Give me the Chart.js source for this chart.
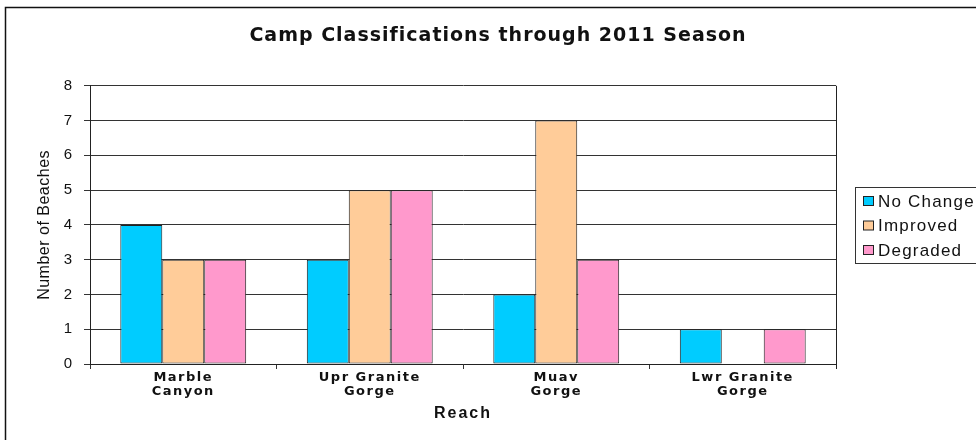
<!DOCTYPE html>
<html>
<head>
<meta charset="utf-8">
<script src="https://cdn.jsdelivr.net/npm/chart.js@4"></script>
<style>
  html, body { margin: 0; padding: 0; background: #fff; }
</style>
</head>
<body>
<canvas id="myChart" width="976" height="440"></canvas>
<script>
// data
var reaches = [['Marble', 'Canyon'], ['Upr Granite', 'Gorge'], ['Muav', 'Gorge'], ['Lwr Granite', 'Gorge']];
var noChange = [4, 3, 2, 1];
var improved = [3, 5, 7, 0];
var degraded = [3, 5, 3, 1];

var FONT = 'Arial, "Liberation Sans", sans-serif';
var WIDE = '"DejaVu Sans", Arial, sans-serif';

// frame round the picture, right edge of the plot, and the boxed legend
var framePlugin = {
  id: 'frame',
  beforeDraw: function(chart) {
    var ctx = chart.ctx;
    ctx.save();
    ctx.fillStyle = '#fff';
    ctx.fillRect(0, 0, chart.width, chart.height);
    ctx.strokeStyle = '#111';
    ctx.lineWidth = 1.5;
    ctx.strokeRect(5.5, 7.5, chart.width + 10, chart.height + 10);
    ctx.restore();
  },
  afterDraw: function(chart) {
    var ctx = chart.ctx, a = chart.chartArea;
    ctx.save();
    ctx.strokeStyle = '#222';
    ctx.lineWidth = 1;
    ctx.beginPath();
    ctx.moveTo(Math.round(a.right) + 0.5, a.top);
    ctx.lineTo(Math.round(a.right) + 0.5, a.bottom + 5);
    ctx.stroke();

    // legend
    ctx.strokeStyle = '#333';
    ctx.strokeRect(855.5, 187.5, 140, 76);
    ctx.font = '17px ' + FONT;
    ctx.letterSpacing = '1.2px';
    ctx.textBaseline = 'middle';
    chart.data.datasets.forEach(function(ds, i) {
      var y = 201 + i * 24.5;
      ctx.fillStyle = ds.backgroundColor;
      ctx.fillRect(863.5, y - 4.5, 10, 9);
      ctx.strokeStyle = '#222';
      ctx.strokeRect(863.5, y - 4.5, 10, 9);
      ctx.fillStyle = '#111';
      ctx.fillText(ds.label, 878, y + 1);
    });
    ctx.restore();
  }
};

// draw some text with extra letter spacing (the original is stretched wide)
function spaced(obj, name, sp) {
  var orig = obj[name];
  obj[name] = function() {
    var c = this.ctx, prev = c.letterSpacing;
    c.letterSpacing = sp;
    var r = orig.apply(this, arguments);
    c.letterSpacing = prev;
    return r;
  };
}

var ctx = document.getElementById('myChart').getContext('2d');
var chart = new Chart(ctx, {
  type: 'bar',
  data: {
    labels: reaches,
    datasets: [{
      label: 'No Change',
      backgroundColor: '#00ccff',
      borderColor: '#222',
      borderWidth: 1,
      borderSkipped: false,
      data: noChange
    }, {
      label: 'Improved',
      backgroundColor: '#ffcc99',
      borderColor: '#222',
      borderWidth: 1,
      borderSkipped: false,
      data: improved
    }, {
      label: 'Degraded',
      backgroundColor: '#ff99cc',
      borderColor: '#222',
      borderWidth: 1,
      borderSkipped: false,
      data: degraded
    }]
  },
  options: {
    responsive: false,
    animation: false,
    categoryPercentage: 0.675,
    barPercentage: 1,
    layout: { padding: { left: 20, right: 0, top: 0, bottom: 0 } },
    plugins: {
      title: {
        display: true,
        text: 'Camp Classifications through 2011 Season',
        color: '#111',
        font: { family: WIDE, size: 19, weight: 'bold', lineHeight: 1.2 },
        padding: { top: 25, bottom: 38 }
      },
      legend: { display: false },
      tooltip: { enabled: false }
    },
    scales: {
      x: {
        afterFit: function(s) { s.height = 76; },
        grid: { drawOnChartArea: false, offset: true, tickLength: 5, color: '#333' },
        border: { color: '#222' },
        ticks: {
          color: '#111',
          maxRotation: 0,
          padding: 1,
          font: { family: WIDE, size: 13, weight: 'bold', lineHeight: 1.1 }
        },
        title: {
          display: true,
          text: 'Reach',
          color: '#111',
          font: { family: FONT, size: 16, weight: 'bold', lineHeight: 1.2 },
          padding: { top: 4, bottom: 17 }
        }
      },
      y: {
        min: 0,
        max: 8,
        afterFit: function(s) { s.width = 70; },
        grid: { color: '#333', tickLength: 6 },
        border: { color: '#222' },
        ticks: {
          stepSize: 1,
          color: '#111',
          padding: 12,
          font: { family: FONT, size: 15 }
        },
        title: {
          display: true,
          text: 'Number of Beaches',
          color: '#111',
          font: { family: FONT, size: 16, lineHeight: 1.2 },
          padding: { top: 15, bottom: 6 }
        }
      },
      // empty strip on the right where the legend sits
      side: {
        type: 'linear',
        position: 'right',
        afterFit: function(s) { s.width = 140; },
        grid: { display: false },
        border: { display: false },
        ticks: { display: false }
      }
    }
  },
  plugins: [framePlugin]
});

spaced(chart.titleBlock, 'draw', '1px');
spaced(chart.scales.x, 'drawLabels', '1.5px');
spaced(chart.scales.x, 'drawTitle', '2px');
spaced(chart.scales.y, 'drawTitle', '0.5px');
chart.draw();
</script>
</body>
</html>
